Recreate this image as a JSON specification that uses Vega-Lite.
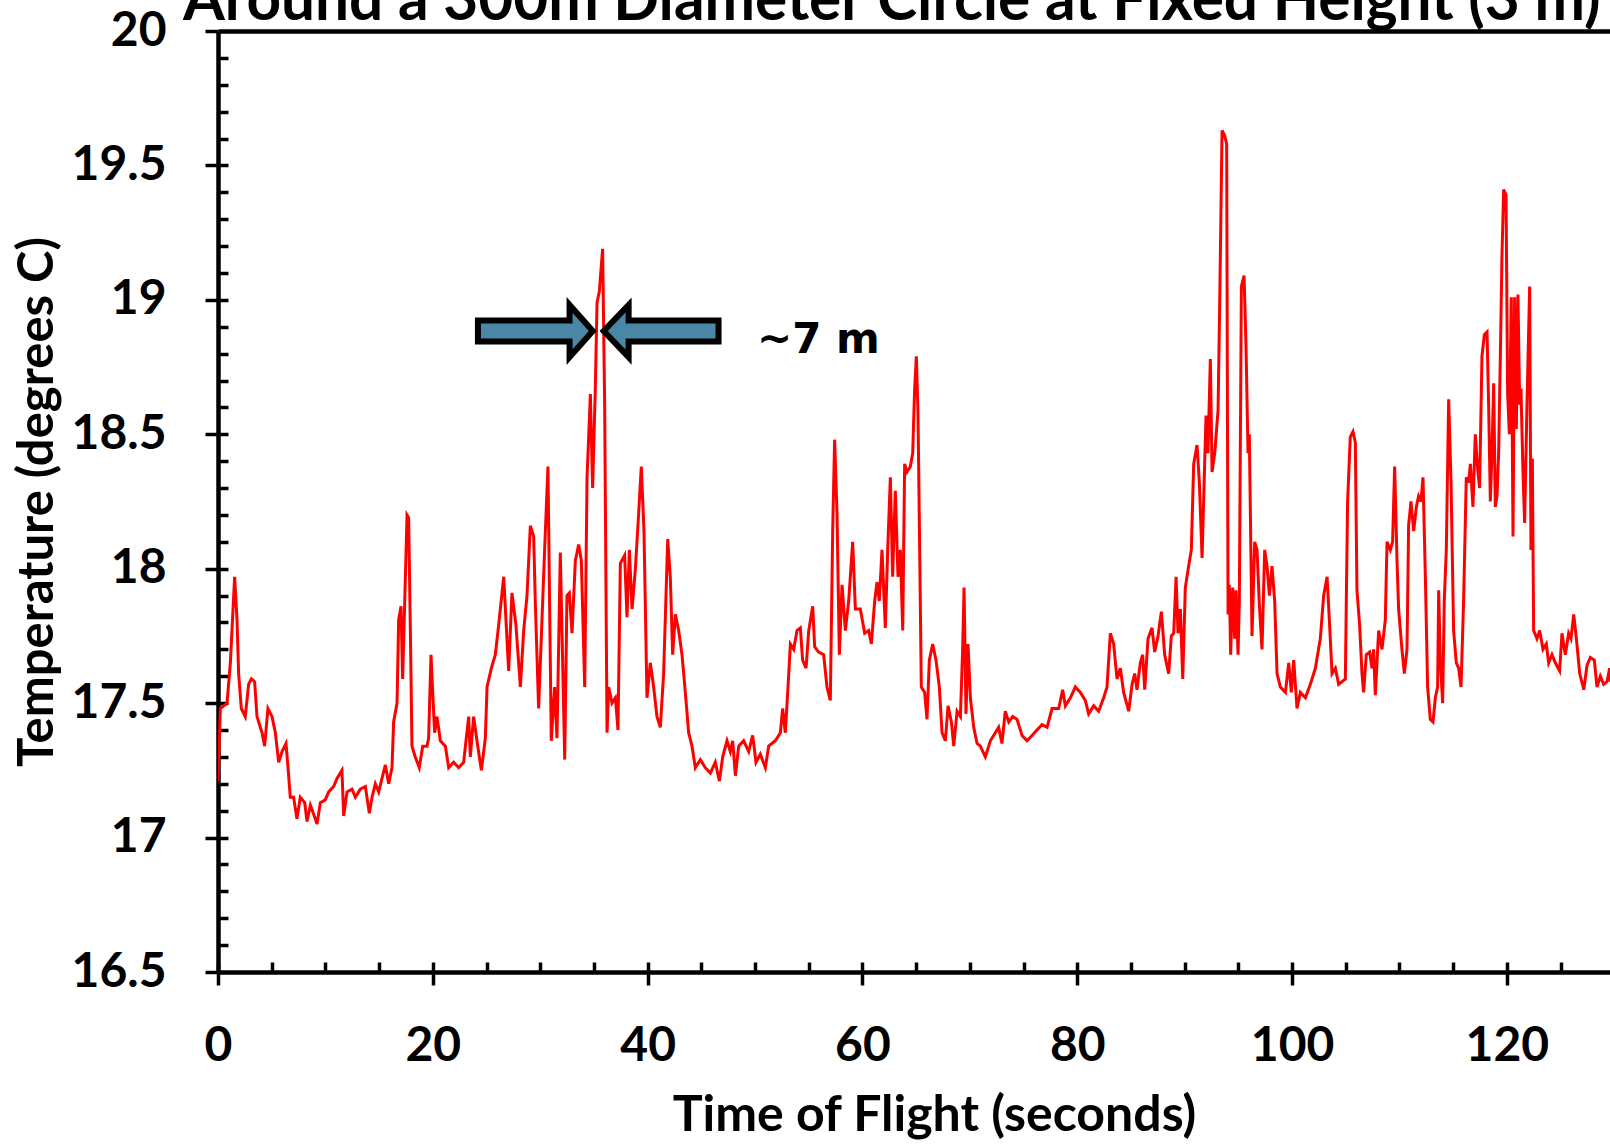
{
  "$schema": "https://vega.github.io/schema/vega-lite/v6.json",
  "width": 1392,
  "height": 941,
  "autosize": {"type": "none"},
  "padding": {"left": 218, "top": 31, "right": 0, "bottom": 173},
  "background": "white",
  "config": {"view": {"stroke": null}, "font": "Lato"},
  "title": {"text": "Around a 300m Diameter Circle at Fixed Height (3 m)", "font": "Lato", "fontSize": 60.3, "fontWeight": "bold", "color": "black", "anchor": "start", "frame": "group", "dx": -35, "dy": 73, "baseline": "alphabetic", "offset": 0},
  "resolve": {"axis": {"x": "independent", "y": "independent"}},
  "datasets": {
    "temp": [
      {"time":0,"temp":17.21},{"time":0.22,"temp":17.48},{"time":0.84,"temp":17.5},{"time":1.15,"temp":17.65},{"time":1.55,"temp":17.97},{"time":1.77,"temp":17.81},{"time":1.92,"temp":17.61},{"time":2.17,"temp":17.48},{"time":2.54,"temp":17.45},{"time":2.85,"temp":17.57},{"time":3.1,"temp":17.59},{"time":3.41,"temp":17.58},{"time":3.63,"temp":17.45},{"time":4.1,"temp":17.39},{"time":4.34,"temp":17.34},{"time":4.65,"temp":17.48},{"time":5.03,"temp":17.45},{"time":5.34,"temp":17.39},{"time":5.65,"temp":17.28},{"time":5.96,"temp":17.32},{"time":6.33,"temp":17.35},{"time":6.52,"temp":17.26},{"time":6.73,"temp":17.15},{"time":7.04,"temp":17.15},{"time":7.35,"temp":17.07},{"time":7.66,"temp":17.15},{"time":8.07,"temp":17.13},{"time":8.29,"temp":17.06},{"time":8.6,"temp":17.12},{"time":9.06,"temp":17.07},{"time":9.22,"temp":17.05},{"time":9.53,"temp":17.13},{"time":9.99,"temp":17.14},{"time":10.3,"temp":17.17},{"time":10.77,"temp":17.19},{"time":11.08,"temp":17.22},{"time":11.54,"temp":17.25},{"time":11.7,"temp":17.08},{"time":12.01,"temp":17.17},{"time":12.48,"temp":17.18},{"time":12.79,"temp":17.15},{"time":13.25,"temp":17.18},{"time":13.72,"temp":17.19},{"time":14.09,"temp":17.09},{"time":14.34,"temp":17.15},{"time":14.65,"temp":17.2},{"time":14.96,"temp":17.17},{"time":15.27,"temp":17.22},{"time":15.58,"temp":17.27},{"time":15.89,"temp":17.2},{"time":16.2,"temp":17.26},{"time":16.35,"temp":17.43},{"time":16.67,"temp":17.5},{"time":16.82,"temp":17.81},{"time":17.04,"temp":17.86},{"time":17.19,"temp":17.59},{"time":17.38,"temp":17.87},{"time":17.6,"temp":18.2},{"time":17.75,"temp":18.19},{"time":17.91,"temp":17.77},{"time":18.06,"temp":17.34},{"time":18.37,"temp":17.3},{"time":18.74,"temp":17.26},{"time":19.06,"temp":17.34},{"time":19.46,"temp":17.34},{"time":19.61,"temp":17.37},{"time":19.83,"temp":17.68},{"time":19.99,"temp":17.54},{"time":20.17,"temp":17.39},{"time":20.39,"temp":17.45},{"time":20.7,"temp":17.36},{"time":21.17,"temp":17.34},{"time":21.48,"temp":17.26},{"time":21.94,"temp":17.28},{"time":22.41,"temp":17.26},{"time":22.87,"temp":17.28},{"time":23.09,"temp":17.36},{"time":23.34,"temp":17.45},{"time":23.49,"temp":17.3},{"time":23.8,"temp":17.45},{"time":24.11,"temp":17.36},{"time":24.52,"temp":17.25},{"time":24.89,"temp":17.37},{"time":25.05,"temp":17.56},{"time":25.45,"temp":17.63},{"time":25.82,"temp":17.68},
      {"time":26.13,"temp":17.79},{"time":26.6,"temp":17.97},{"time":27.06,"temp":17.62},{"time":27.37,"temp":17.91},{"time":27.74,"temp":17.79},{"time":28.15,"temp":17.56},{"time":28.46,"temp":17.77},{"time":28.77,"temp":17.9},{"time":29.08,"temp":18.16},{"time":29.39,"temp":18.12},{"time":29.54,"temp":17.88},{"time":29.85,"temp":17.48},{"time":30.41,"temp":18.07},{"time":30.72,"temp":18.38},{"time":31.03,"temp":17.36},{"time":31.34,"temp":17.56},{"time":31.56,"temp":17.37},{"time":31.87,"temp":18.06},{"time":32.28,"temp":17.29},{"time":32.49,"temp":17.9},{"time":32.71,"temp":17.91},{"time":32.96,"temp":17.76},{"time":33.27,"temp":18.03},{"time":33.58,"temp":18.09},{"time":33.83,"temp":18.03},{"time":34.14,"temp":17.56},{"time":34.36,"temp":18.34},{"time":34.67,"temp":18.65},{"time":34.88,"temp":18.3},{"time":35.13,"temp":18.67},{"time":35.29,"temp":18.99},{"time":35.5,"temp":19.03},{"time":35.81,"temp":19.19},{"time":36.0,"temp":18.61},{"time":36.22,"temp":17.39},{"time":36.37,"temp":17.56},{"time":36.68,"temp":17.5},{"time":37.0,"temp":17.52},{"time":37.24,"temp":17.4},{"time":37.46,"temp":18.02},{"time":37.86,"temp":18.05},{"time":38.08,"temp":17.82},{"time":38.3,"temp":18.07},{"time":38.55,"temp":17.85},{"time":38.86,"temp":18.0},{"time":39.17,"temp":18.21},{"time":39.41,"temp":18.38},{"time":39.66,"temp":18.14},{"time":39.94,"temp":17.52},{"time":40.25,"temp":17.65},{"time":40.56,"temp":17.56},{"time":40.87,"temp":17.45},{"time":41.18,"temp":17.41},{"time":41.49,"temp":17.61},{"time":41.87,"temp":18.11},{"time":42.11,"temp":17.97},{"time":42.33,"temp":17.68},{"time":42.58,"temp":17.83},{"time":42.89,"temp":17.77},{"time":43.2,"temp":17.68},{"time":43.51,"temp":17.54},{"time":43.82,"temp":17.39},{"time":44.13,"temp":17.34},{"time":44.44,"temp":17.26},{"time":44.91,"temp":17.29},{"time":45.37,"temp":17.26},{"time":45.84,"temp":17.24},{"time":46.3,"temp":17.28},{"time":46.68,"temp":17.21},{"time":46.99,"temp":17.3},{"time":47.39,"temp":17.36},{"time":47.7,"temp":17.32},{"time":47.92,"temp":17.36},{"time":48.17,"temp":17.23},{"time":48.48,"temp":17.34},{"time":48.94,"temp":17.36},{"time":49.41,"temp":17.32},{"time":49.78,"temp":17.38},{"time":50.09,"temp":17.28},{"time":50.49,"temp":17.31},{"time":50.96,"temp":17.26},{"time":51.27,"temp":17.34},{"time":51.89,"temp":17.36},
      {"time":52.36,"temp":17.39},{"time":52.57,"temp":17.48},{"time":52.82,"temp":17.39},{"time":53.07,"temp":17.56},{"time":53.29,"temp":17.72},{"time":53.6,"temp":17.7},{"time":53.91,"temp":17.77},{"time":54.22,"temp":17.78},{"time":54.43,"temp":17.66},{"time":54.75,"temp":17.63},{"time":55.0,"temp":17.77},{"time":55.37,"temp":17.86},{"time":55.55,"temp":17.71},{"time":55.92,"temp":17.69},{"time":56.39,"temp":17.68},{"time":56.7,"temp":17.56},{"time":57.01,"temp":17.51},{"time":57.23,"temp":18.14},{"time":57.41,"temp":18.48},{"time":57.63,"temp":18.21},{"time":57.85,"temp":17.68},{"time":58.1,"temp":17.94},{"time":58.41,"temp":17.77},{"time":58.72,"temp":17.88},{"time":59.09,"temp":18.1},{"time":59.34,"temp":17.85},{"time":59.8,"temp":17.85},{"time":60.21,"temp":17.76},{"time":60.58,"temp":17.77},{"time":60.83,"temp":17.72},{"time":61.14,"temp":17.88},{"time":61.36,"temp":17.95},{"time":61.57,"temp":17.88},{"time":61.82,"temp":18.07},{"time":62.13,"temp":17.78},{"time":62.35,"temp":18.07},{"time":62.6,"temp":18.34},{"time":62.81,"temp":17.97},{"time":63.06,"temp":18.29},{"time":63.31,"temp":17.97},{"time":63.53,"temp":18.07},{"time":63.75,"temp":17.77},{"time":63.93,"temp":18.39},{"time":64.15,"temp":18.36},{"time":64.46,"temp":18.38},{"time":64.68,"temp":18.43},{"time":64.86,"temp":18.67},{"time":65.02,"temp":18.79},{"time":65.17,"temp":18.58},{"time":65.33,"temp":18.07},{"time":65.48,"temp":17.56},{"time":65.79,"temp":17.54},{"time":66.01,"temp":17.44},{"time":66.23,"temp":17.66},{"time":66.54,"temp":17.72},{"time":66.85,"temp":17.66},{"time":67.16,"temp":17.56},{"time":67.41,"temp":17.39},{"time":67.72,"temp":17.36},{"time":67.97,"temp":17.49},{"time":68.28,"temp":17.43},{"time":68.5,"temp":17.34},{"time":68.81,"temp":17.47},{"time":69.12,"temp":17.45},{"time":69.33,"temp":17.7},{"time":69.46,"temp":17.93},{"time":69.64,"temp":17.46},{"time":69.83,"temp":17.72},{"time":70.05,"temp":17.52},{"time":70.36,"temp":17.41},{"time":70.67,"temp":17.35},{"time":70.98,"temp":17.34},{"time":71.44,"temp":17.3},{"time":71.91,"temp":17.36},{"time":72.37,"temp":17.39},{"time":72.68,"temp":17.41},{"time":72.99,"temp":17.35},{"time":73.3,"temp":17.47},{"time":73.62,"temp":17.43},{"time":73.99,"temp":17.45},{"time":74.39,"temp":17.44},{"time":74.86,"temp":17.38},{"time":75.32,"temp":17.36},{"time":75.79,"temp":17.38},{"time":76.25,"temp":17.4},{"time":76.72,"temp":17.42},{"time":77.19,"temp":17.41},{"time":77.65,"temp":17.48},
      {"time":78.27,"temp":17.48},{"time":78.64,"temp":17.55},{"time":78.89,"temp":17.49},{"time":79.36,"temp":17.52},{"time":79.82,"temp":17.56},{"time":80.29,"temp":17.54},{"time":80.75,"temp":17.51},{"time":81.06,"temp":17.46},{"time":81.53,"temp":17.49},{"time":81.99,"temp":17.47},{"time":82.46,"temp":17.52},{"time":82.77,"temp":17.56},{"time":83.08,"temp":17.76},{"time":83.39,"temp":17.72},{"time":83.7,"temp":17.59},{"time":84.01,"temp":17.63},{"time":84.32,"temp":17.54},{"time":84.79,"temp":17.47},{"time":85.1,"temp":17.57},{"time":85.35,"temp":17.61},{"time":85.56,"temp":17.55},{"time":85.87,"temp":17.65},{"time":86.09,"temp":17.68},{"time":86.28,"temp":17.55},{"time":86.59,"temp":17.74},{"time":86.96,"temp":17.78},{"time":87.21,"temp":17.69},{"time":87.52,"temp":17.75},{"time":87.83,"temp":17.84},{"time":88.14,"temp":17.68},{"time":88.51,"temp":17.61},{"time":88.76,"temp":17.75},{"time":88.98,"temp":17.76},{"time":89.2,"temp":17.97},{"time":89.38,"temp":17.76},{"time":89.6,"temp":17.85},{"time":89.82,"temp":17.59},{"time":90.06,"temp":17.93},{"time":90.37,"temp":18.01},{"time":90.62,"temp":18.07},{"time":90.84,"temp":18.39},{"time":91.15,"temp":18.46},{"time":91.37,"temp":18.32},{"time":91.62,"temp":18.04},{"time":91.86,"temp":18.39},{"time":91.99,"temp":18.57},{"time":92.17,"temp":18.43},{"time":92.39,"temp":18.78},{"time":92.55,"temp":18.36},{"time":92.8,"temp":18.43},{"time":93.11,"temp":18.59},{"time":93.26,"temp":18.98},{"time":93.48,"temp":19.63},{"time":93.73,"temp":19.61},{"time":93.91,"temp":19.58},{"time":94.04,"temp":17.83},{"time":94.16,"temp":17.94},{"time":94.28,"temp":17.68},{"time":94.47,"temp":17.93},{"time":94.66,"temp":17.74},{"time":94.78,"temp":17.92},{"time":94.97,"temp":17.68},{"time":95.09,"temp":17.88},{"time":95.28,"temp":19.05},{"time":95.53,"temp":19.09},{"time":95.71,"temp":18.83},{"time":95.9,"temp":18.43},{"time":96.02,"temp":18.5},{"time":96.27,"temp":17.75},{"time":96.52,"temp":18.1},{"time":96.74,"temp":18.07},{"time":96.95,"temp":17.87},{"time":97.2,"temp":17.7},{"time":97.45,"temp":18.07},{"time":97.67,"temp":18.01},{"time":97.89,"temp":17.9},{"time":98.13,"temp":18.01},{"time":98.38,"temp":17.88},{"time":98.6,"temp":17.61},{"time":98.91,"temp":17.56},{"time":99.38,"temp":17.54},{"time":99.69,"temp":17.65},{"time":99.93,"temp":17.54},{"time":100.15,"temp":17.66},{"time":100.46,"temp":17.48},{"time":100.77,"temp":17.54},{"time":101.24,"temp":17.52},{"time":101.7,"temp":17.57},{"time":102.17,"temp":17.63},{"time":102.63,"temp":17.74},{"time":102.94,"temp":17.9},{"time":103.26,"temp":17.97},{"time":103.47,"temp":17.81},{"time":103.72,"temp":17.61},
      {"time":104.03,"temp":17.63},{"time":104.34,"temp":17.57},{"time":104.65,"temp":17.58},{"time":104.96,"temp":17.59},{"time":105.05,"temp":17.88},{"time":105.17,"temp":18.25},{"time":105.42,"temp":18.49},{"time":105.67,"temp":18.51},{"time":105.89,"temp":18.47},{"time":106.04,"temp":17.92},{"time":106.29,"temp":17.79},{"time":106.51,"temp":17.61},{"time":106.66,"temp":17.54},{"time":106.91,"temp":17.68},{"time":107.22,"temp":17.69},{"time":107.44,"temp":17.63},{"time":107.59,"temp":17.7},{"time":107.75,"temp":17.53},{"time":108.06,"temp":17.77},{"time":108.37,"temp":17.7},{"time":108.68,"temp":17.81},{"time":108.84,"temp":18.1},{"time":109.15,"temp":18.07},{"time":109.36,"temp":18.1},{"time":109.55,"temp":18.38},{"time":109.77,"temp":18.03},{"time":109.92,"temp":17.85},{"time":110.23,"temp":17.7},{"time":110.45,"temp":17.61},{"time":110.7,"temp":17.7},{"time":110.85,"temp":18.16},{"time":111.07,"temp":18.25},{"time":111.32,"temp":18.14},{"time":111.57,"temp":18.23},{"time":111.78,"temp":18.27},{"time":112.0,"temp":18.25},{"time":112.19,"temp":18.34},{"time":112.41,"temp":17.97},{"time":112.62,"temp":17.56},{"time":112.87,"temp":17.44},{"time":113.12,"temp":17.43},{"time":113.34,"temp":17.52},{"time":113.55,"temp":17.56},{"time":113.65,"temp":17.92},{"time":113.8,"temp":17.66},{"time":114.02,"temp":17.5},{"time":114.17,"temp":17.88},{"time":114.36,"temp":18.07},{"time":114.58,"temp":18.63},{"time":114.8,"temp":18.32},{"time":115.04,"temp":17.77},{"time":115.29,"temp":17.65},{"time":115.51,"temp":17.63},{"time":115.73,"temp":17.56},{"time":115.97,"temp":17.88},{"time":116.22,"temp":18.34},{"time":116.44,"temp":18.32},{"time":116.6,"temp":18.39},{"time":116.84,"temp":18.23},{"time":117.06,"temp":18.5},{"time":117.28,"temp":18.37},{"time":117.46,"temp":18.3},{"time":117.68,"temp":18.79},{"time":117.9,"temp":18.87},{"time":118.15,"temp":18.88},{"time":118.3,"temp":18.61},{"time":118.46,"temp":18.25},{"time":118.61,"temp":18.43},{"time":118.77,"temp":18.69},{"time":118.92,"temp":18.23},{"time":119.08,"temp":18.27},{"time":119.23,"temp":18.43},{"time":119.39,"temp":18.79},{"time":119.54,"temp":19.16},{"time":119.7,"temp":19.41},{"time":119.92,"temp":19.39},{"time":120.07,"temp":18.65},{"time":120.23,"temp":18.5},{"time":120.41,"temp":19.01},{"time":120.57,"temp":18.12},{"time":120.72,"temp":19.01},{"time":120.88,"temp":18.52},{"time":121.03,"temp":19.02},{"time":121.19,"temp":18.61},{"time":121.31,"temp":18.67},{"time":121.5,"temp":18.36},{"time":121.65,"temp":18.17},{"time":121.87,"temp":18.61},{"time":122.12,"temp":19.05},{"time":122.24,"temp":18.07},{"time":122.37,"temp":18.41},{"time":122.49,"temp":17.77},{"time":122.8,"temp":17.74},{"time":123.05,"temp":17.77},{"time":123.36,"temp":17.7},{"time":123.67,"temp":17.72},{"time":123.89,"temp":17.65},{"time":124.2,"temp":17.68},{"time":124.51,"temp":17.65},{"time":124.91,"temp":17.62},{"time":125.13,"temp":17.76},{"time":125.44,"temp":17.68},{"time":125.75,"temp":17.76},{"time":125.97,"temp":17.74},{"time":126.22,"temp":17.83},{"time":126.47,"temp":17.74},{"time":126.78,"temp":17.61},{"time":127.16,"temp":17.55},{"time":127.46,"temp":17.64},{"time":127.77,"temp":17.67},{"time":128.14,"temp":17.66},{"time":128.39,"temp":17.56},{"time":128.7,"temp":17.6},{"time":129.01,"temp":17.57},{"time":129.32,"temp":17.58},{"time":129.57,"temp":17.63},{"time":129.63,"temp":17.58}
    ],
    "arrows": [
      {"time": 29.6, "temp": 18.884, "dir": "right"},
      {"time": 41.2, "temp": 18.884, "dir": "left"}
    ],
    "note": [
      {"time": 50.18, "temp": 18.802, "label": "~7 m"}
    ]
  },
  "layer": [
    {
      "data": {"name": "temp"},
      "mark": {"type": "line", "color": "#FF0000", "strokeWidth": 3, "clip": true},
      "encoding": {
        "x": {"field": "time", "type": "quantitative",
          "scale": {"domain": [0, 129.6], "nice": false, "zero": false},
          "axis": {"orient": "bottom", "values": [0, 20, 40, 60, 80, 100, 120], "format": "d", "grid": false,
            "domain": true, "domainColor": "black", "domainWidth": 4.5,
            "ticks": true, "tickSize": 13, "tickWidth": 3.5, "tickColor": "black",
            "labelFont": "Lato", "labelFontSize": 48, "labelFontWeight": "bold", "labelColor": "black", "labelPadding": 37,
            "labelFlush": false, "labelOverlap": false, "labelBound": false,
            "title": "Time of Flight (seconds)", "titleFont": "Lato", "titleFontSize": 50, "titleFontWeight": "bold", "titleColor": "black",
            "titleX": 716, "titleY": 158, "titleBaseline": "alphabetic", "titleAlign": "center"}},
        "y": {"field": "temp", "type": "quantitative",
          "scale": {"domain": [16.5, 20], "nice": false, "zero": false},
          "axis": {"orient": "left", "values": [16.5, 17, 17.5, 18, 18.5, 19, 19.5, 20], "format": "~r", "grid": false,
            "domain": true, "domainColor": "black", "domainWidth": 4.5,
            "ticks": true, "tickSize": 13, "tickWidth": 3.5, "tickColor": "black",
            "labelFont": "Lato", "labelFontSize": 48, "labelFontWeight": "bold", "labelColor": "black", "labelPadding": 39,
            "labelFlush": false, "labelOverlap": false, "labelBound": false,
            "title": "Temperature (degrees C)", "titleFont": "Lato", "titleFontSize": 49, "titleFontWeight": "bold", "titleColor": "black",
            "titleX": -166, "titleBaseline": "alphabetic", "titleAngle": -90, "titleAlign": "center"}}
      }
    },
    {
      "data": {"name": "arrows"},
      "mark": {"type": "point", "filled": true, "fill": "#4A86A5", "fillOpacity": 1, "opacity": 1, "stroke": "black", "strokeWidth": 6, "strokeJoin": "miter", "size": 13456},
      "encoding": {
        "x": {"field": "time", "type": "quantitative",
          "axis": {"orient": "bottom", "values": [0, 5, 10, 15, 20, 25, 30, 35, 40, 45, 50, 55, 60, 65, 70, 75, 80, 85, 90, 95, 100, 105, 110, 115, 120, 125],
            "domain": false, "labels": false, "grid": false, "title": null, "ticks": true, "tickSize": -10, "tickWidth": 3.5, "tickColor": "black"}},
        "y": {"field": "temp", "type": "quantitative",
          "axis": {"orient": "left", "values": [16.6, 16.7, 16.8, 16.9, 17, 17.1, 17.2, 17.3, 17.4, 17.5, 17.6, 17.7, 17.8, 17.9, 18, 18.1, 18.2, 18.3, 18.4, 18.5, 18.6, 18.7, 18.8, 18.9, 19, 19.1, 19.2, 19.3, 19.4, 19.5, 19.6, 19.7, 19.8, 19.9],
            "domain": false, "labels": false, "grid": false, "title": null, "ticks": true, "tickSize": -10, "tickWidth": 3.5, "tickColor": "black"}},
        "shape": {"field": "dir", "type": "nominal", "legend": null,
          "scale": {"domain": ["right", "left"], "range": ["M -1 -0.18 L 0.58 -0.18 L 0.58 -0.45 L 0.98 0 L 0.58 0.45 L 0.58 0.18 L -1 0.18 Z", "M 1 -0.18 L -0.55 -0.18 L -0.55 -0.45 L -0.98 0 L -0.55 0.45 L -0.55 0.18 L 1 0.18 Z"]}}
      }
    },
    {
      "data": {"name": "note"},
      "mark": {"type": "text", "align": "left", "baseline": "alphabetic", "font": "DejaVu Sans", "fontSize": 42, "fontWeight": "bold", "color": "black"},
      "encoding": {
        "x": {"field": "time", "type": "quantitative",
          "axis": {"orient": "top", "domain": true, "domainColor": "black", "domainWidth": 4.5, "ticks": false, "labels": false, "grid": false, "title": null}},
        "y": {"field": "temp", "type": "quantitative", "axis": null},
        "text": {"field": "label", "type": "nominal"}
      }
    }
  ]
}
